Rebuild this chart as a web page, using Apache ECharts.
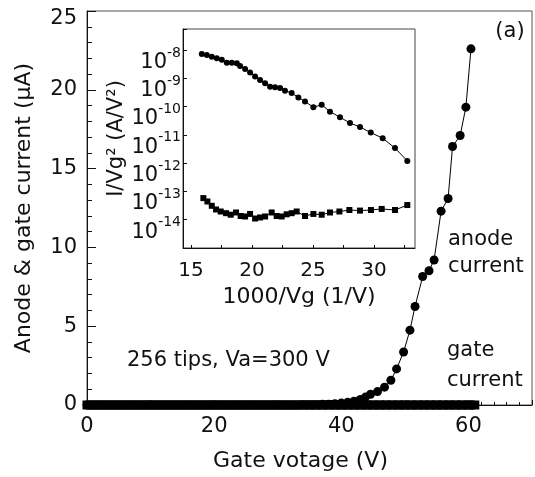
<!DOCTYPE html>
<html><head><meta charset="utf-8">
<script src="https://cdn.jsdelivr.net/npm/echarts@6/dist/echarts.min.js"></script>
<style>html,body{margin:0;padding:0;background:#fff}#c{width:535px;height:477px}</style>
</head><body><div id="c"></div>
<script>
// ---- Main panel (a): current vs gate voltage ----
const anodeVoltage = [0,1,2,3,4,5,6,7,8,9,10,11,12,13,14,15,16,17,18,19,20,21,22,23,24,25,26,27,28,29,30,31,32,33,
  34,35,36,37,38,39,40,41,42,43,43.8,44.6,45.7,46.8,47.8,48.7,49.8,50.8,51.6,52.8,53.8,54.6,55.7,56.8,57.5,58.7,59.6,60.4];
const anodeCurrent = [0,0,0,0,0,0,0,0,0,0,0,0,0,0,0,0,0,0,0,0,0,0,0,0,0,0,0,0,0,0,0,0,0,0,
  0.01,0.01,0.02,0.04,0.05,0.08,0.12,0.17,0.24,0.35,0.5,0.68,0.85,1.13,1.57,2.29,3.36,4.75,6.25,8.15,8.52,9.2,12.3,13.1,16.4,17.1,18.9,22.6];
const gateVoltage = [0,1,2,3,4,5,6,7,8,9,10,11,12,13,14,15,16,17,18,19,20,21,22,23,24,25,26,27,28,29,30,
  31,32,33,34,35,36,37,38,39,40,41,42,43,44,45,46,47,48,49,50,51,52,53,54,55,56,57,58,59,60,61];
const gateCurrent = [0,0,0,0,0,0,0,0,0,0,0,0,0,0,0,0,0,0,0,0,0,0,0,0,0,0,0,0,0,0,0,
  0,0,0,0,0,0,0,0,0,0,0,0,0,0,0,0,0,0,0,0,0,0,0,0,0,0,0,0,0,0,0];

// ---- Inset (b): I/Vg^2 vs 1000/Vg ----
const insetAnodeX = [15.88,16.29,16.70,17.11,17.52,17.93,18.34,18.75,19.02,19.43,19.84,20.25,20.66,21.07,21.48,21.89,22.30,22.70,23.25,23.80,24.34,25.03,25.71,26.39,27.21,28.03,28.85,29.73,30.71,31.72,32.73];
const insetAnodeY = [7.2e-9,6.6e-9,5.8e-9,5.1e-9,4.5e-9,3.5e-9,3.5e-9,3.4e-9,2.7e-9,2.1e-9,1.6e-9,1.15e-9,8.7e-10,6.6e-10,5.0e-10,4.8e-10,4.5e-10,3.6e-10,3.0e-10,2.1e-10,1.5e-10,9.5e-11,1.15e-10,6.6e-11,4.2e-11,2.6e-11,1.9e-11,1.2e-11,7.6e-12,3.4e-12,1.2e-12];
const insetGateX = [16.01,16.34,16.70,17.05,17.43,17.87,18.25,18.69,19.07,19.43,19.84,20.25,20.66,21.07,21.61,22.02,22.43,22.84,23.25,23.66,24.34,25.03,25.71,26.39,27.16,27.98,28.85,29.75,30.63,31.72,32.73];
const insetGateY = [5.8e-14,4.4e-14,3.1e-14,2.3e-14,1.95e-14,1.7e-14,1.5e-14,1.8e-14,1.35e-14,1.3e-14,1.6e-14,1.1e-14,1.2e-14,1.3e-14,1.8e-14,1.35e-14,1.3e-14,1.55e-14,1.7e-14,1.95e-14,1.35e-14,1.6e-14,1.5e-14,1.8e-14,1.95e-14,2.2e-14,2.1e-14,2.2e-14,2.4e-14,2.2e-14,3.3e-14];
const insetXLabels = [15,20,25,30];
const insetXTicks = [15,17.5,20,22.5,25,27.5,30,32.5];

const FONT = 'DejaVu Sans';
const C = '#111';
const zip = (a, b) => a.map((v, i) => [v, b[i]]);
const txt = (text, x, y, align) => ({
  type: 'text', x: x, y: y, silent: true,
  style: { text: text, fill: C, font: '21px "DejaVu Sans"', align: align || 'left', verticalAlign: 'middle',
           textAlign: align || 'left', textVerticalAlign: 'middle' }
});

const chart = echarts.init(document.getElementById('c'), null, { renderer: 'canvas' });
chart.setOption({
  animation: false,
  backgroundColor: '#fff',
  grid: [
    { left: 87, top: 11, right: 1, bottom: 66, show: true, borderColor: '#555', borderWidth: 1 },
    { left: 183, top: 29, right: 120, bottom: 229, show: true, borderColor: '#444', borderWidth: 1, backgroundColor: '#fff', z: 5 }
  ],
  xAxis: [
    { gridIndex: 0, type: 'value', min: 0, max: 70, interval: 10,
      name: 'Gate votage (V)', nameLocation: 'middle', nameGap: 45,
      nameTextStyle: { fontFamily: FONT, fontSize: 22, color: C, padding: [0, 18, 0, 0] },
      axisLine: { onZero: false, lineStyle: { color: C, width: 1 } },
      axisTick: { inside: true, length: 5, lineStyle: { color: C } },
      minorTick: { show: true, splitNumber: 5, length: 3, lineStyle: { color: C } },
      splitLine: { show: false },
      axisLabel: { margin: 11, fontFamily: FONT, fontSize: 21, color: C,
                   formatter: v => (v % 20 === 0 ? String(v) : '') } },
    { gridIndex: 1, type: 'value', min: 14.34, max: 33.36, z: 6,
      name: '1000/Vg (1/V)', nameLocation: 'middle', nameGap: 38,
      nameTextStyle: { fontFamily: FONT, fontSize: 22, color: C },
      axisLine: { onZero: false, lineStyle: { color: C, width: 1 } },
      axisTick: { inside: true, length: 3, customValues: insetXTicks, lineStyle: { color: C } },
      splitLine: { show: false },
      axisLabel: { margin: 13, fontFamily: FONT, fontSize: 20, color: C, customValues: insetXLabels } }
  ],
  yAxis: [
    { gridIndex: 0, type: 'value', min: 0, max: 25, interval: 5,
      name: 'Anode & gate current (μA)', nameLocation: 'middle', nameGap: 52, nameRotate: 90,
      nameTextStyle: { fontFamily: FONT, fontSize: 22, color: C },
      axisLine: { onZero: false, lineStyle: { color: C, width: 1 } },
      axisTick: { inside: true, length: 9, lineStyle: { color: C } },
      minorTick: { show: true, splitNumber: 5, length: 5, lineStyle: { color: C } },
      splitLine: { show: false },
      axisLabel: { margin: 10, color: C,
        formatter: v => (v === 25 ? '{t|' + v + '}' : '{n|' + v + '}'),
        rich: {
          n: { fontFamily: FONT, fontSize: 21, color: C },
          t: { fontFamily: FONT, fontSize: 21, color: C, padding: [16, 0, 0, 0] }
        } } },
    { gridIndex: 1, type: 'log', logBase: 10, min: 1e-15, max: 5.5e-8, z: 6,
      name: 'I/Vg² (A/V²)', nameLocation: 'middle', nameGap: 52, nameRotate: 90,
      nameTextStyle: { fontFamily: FONT, fontSize: 21, color: C },
      axisLine: { onZero: false, lineStyle: { color: C, width: 1 } },
      axisTick: { inside: true, length: 4, lineStyle: { color: C } },
      splitLine: { show: false }, minorSplitLine: { show: false },
      axisLabel: { margin: 2, color: C,
        formatter: v => {
          const e = Math.log10(v), r = Math.round(e);
          if (Math.abs(e - r) > 1e-6 || r < -14 || r > -8) return '';
          return '{b|10}{s|' + r + '}';
        },
        rich: {
          b: { fontFamily: FONT, fontSize: 21, lineHeight: 20, color: C, padding: [12, 0, 0, 0], verticalAlign: 'top' },
          s: { fontFamily: FONT, fontSize: 14, lineHeight: 14, color: C, padding: [6, 0, 0, 0], verticalAlign: 'top' }
        } } }
  ],
  series: [
    { name: 'gate current', type: 'line', xAxisIndex: 0, yAxisIndex: 0, data: zip(gateVoltage, gateCurrent),
      symbol: 'rect', symbolSize: 9, clip: false,
      itemStyle: { color: '#000', borderWidth: 0 }, lineStyle: { color: '#000', width: 9, cap: 'butt' }, z: 2 },
    { name: 'anode current', type: 'line', xAxisIndex: 0, yAxisIndex: 0, data: zip(anodeVoltage, anodeCurrent),
      symbol: 'circle', symbolSize: 9, clip: false,
      itemStyle: { color: '#000', borderWidth: 0 }, lineStyle: { color: '#000', width: 1 }, z: 3 },
    { name: 'inset anode', type: 'line', xAxisIndex: 1, yAxisIndex: 1, data: zip(insetAnodeX, insetAnodeY),
      symbol: 'circle', symbolSize: 6, itemStyle: { color: '#000', borderWidth: 0 }, lineStyle: { color: '#000', width: 1 }, z: 7 },
    { name: 'inset gate', type: 'line', xAxisIndex: 1, yAxisIndex: 1, data: zip(insetGateX, insetGateY),
      symbol: 'rect', symbolSize: 6, itemStyle: { color: '#000', borderWidth: 0 }, lineStyle: { color: '#000', width: 1 }, z: 7 }
  ],
  graphic: [
    txt('(a)', 510, 32, 'center'),
    txt('(b)', 391, 50, 'center'),
    txt('anode', 275, 47), txt('current', 275, 74),
    txt('gate', 247, 155), txt('current', 247, 184),
    txt('anode', 448, 240), txt('current', 448, 267),
    txt('gate', 447, 351), txt('current', 447, 381),
    txt('256 tips, Va=300 V', 127, 361)
  ]
});
</script>
</body></html>
